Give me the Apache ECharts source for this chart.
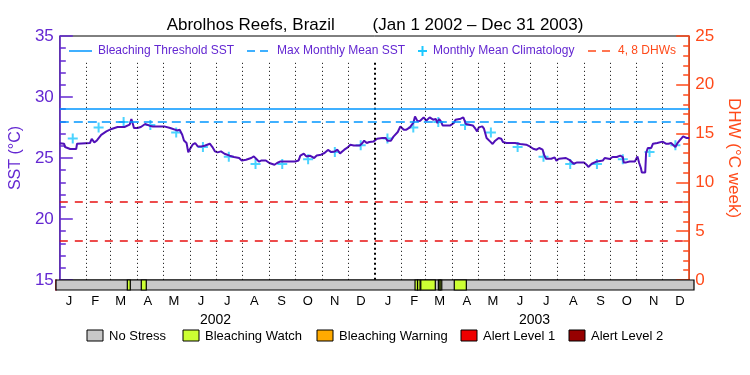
<!DOCTYPE html>
<html>
<head>
<meta charset="utf-8">
<script src="https://cdn.jsdelivr.net/npm/echarts@6/dist/echarts.min.js"></script>
<style>html,body{margin:0;padding:0;background:#fff}#c{width:750px;height:375px}</style>
</head>
<body>
<div id="c"></div>
<script>
// ---------- data ----------
const monthLetters = ['J','F','M','A','M','J','J','A','S','O','N','D'];
const monthMid = [15,45,74,105,135,166,196,227,258,288,319,349,380,410,439,470,500,531,561,592,623,653,684,714];
const monthStart = [31,59,90,120,151,181,212,243,273,304,334,365,396,424,455,485,516,546,577,608,638,669,699];
const yearLabels = ['2002','2003'];
const yearMid = [182.5,547.5];
const climSST = [26.6,27.5,27.95,27.7,27.1,25.9,25.1,24.5,24.5,24.9,25.5,26.05,
                 26.6,27.5,27.95,27.7,27.1,25.9,25.1,24.5,24.5,24.9,25.5,26.05];
const sstDay = [0,5,6,12,19,20,35,37,39,40,43,48,54,60,67,75,81,82,83,85,86,88,90,94,99,101,104,108,121,128,136,139,142,144,147,149,151,154,157,160,164,168,170,174,177,180,183,187,191,197,202,208,211,213,216,222,225,228,231,234,239,243,245,249,252,256,273,277,279,283,286,290,292,295,298,303,307,311,315,319,322,325,330,334,337,341,348,351,353,356,359,364,368,374,378,380,384,387,392,395,399,402,406,410,412,415,418,422,425,429,433,436,438,440,442,444,453,457,459,465,468,471,473,479,482,484,486,490,492,494,495,499,502,505,509,512,514,518,528,534,541,545,549,553,556,560,562,564,570,574,576,579,587,592,596,600,608,611,613,617,623,630,632,638,641,646,650,653,654,657,661,667,670,672,674,675,679,680,682,686,688,693,699,703,706,709,711,714,716,719,723,727,730];
const sstVal = [26.2,26.17,25.9,25.74,25.74,26.17,26.23,26.56,26.64,26.28,26.44,26.9,27.18,27.38,27.54,27.54,27.73,27.87,28.2,27.73,27.46,27.32,27.46,27.54,27.79,27.92,27.65,27.59,27.59,27.46,27.26,27.32,26.9,26.44,26.23,25.46,25.74,26.09,26.23,25.95,25.95,26.0,25.9,26.17,25.9,25.54,25.46,25.54,25.35,25.19,25.08,25.0,24.8,24.72,24.86,25.0,25.13,24.92,24.7,24.8,24.8,24.59,24.72,24.45,24.59,24.72,24.72,24.8,25.19,25.35,25.13,25.19,25.13,25.0,25.21,25.27,25.41,25.66,25.49,25.54,25.68,25.38,25.68,25.87,26.09,26.03,26.03,26.23,26.42,26.23,26.31,26.36,26.58,26.64,26.64,26.42,26.42,26.75,27.13,27.59,27.32,27.32,27.51,27.87,28.41,28.0,28.06,28.33,28.06,28.33,28.14,28.2,27.85,28.2,28.0,27.67,27.67,27.87,28.14,28.22,28.33,27.79,27.67,27.67,27.4,27.18,27.51,27.59,27.4,27.4,26.64,26.36,26.15,26.42,26.64,26.58,26.31,26.23,26.23,26.15,26.09,25.95,25.76,25.68,25.82,25.68,25.21,24.94,24.94,25.05,24.78,24.94,25.0,24.8,24.53,24.64,24.64,24.45,24.26,24.53,24.72,24.8,25.0,24.92,25.08,25.08,25.19,25.08,24.64,24.64,24.72,24.72,25.13,24.59,24.18,23.82,23.82,25.41,25.82,25.82,26.17,26.23,26.34,26.17,26.17,26.23,26.09,25.9,26.17,26.44,26.77,26.64,26.64];
const bleachingThreshold = 29;
const maxMonthlyMean = 28;
const dhwLevels = [4, 8];
const stressStart = [0,81.6,97.6,410.8,413.7,417.4,437.5,439.5,455.7];
const stressEnd   = [730,85,103.3,413.7,416.6,434,439.5,441.4,469.5];
const stressLevel = [0,1,1,1,1,1,1,1,1];
const stressNames = ['No Stress','Bleaching Watch','Bleaching Warning','Alert Level 1','Alert Level 2'];

// ---------- styles ----------
const PURPLE = '#6428d2', LINE = '#5010b8', ORANGE = '#ff4a1a', BLUE = '#0096ff', CYAN = '#1ec8ff', RED = '#e81010';
const stressColors = ['#c8c8c8','#ccff33','#ffaa00','#ee0000','#960000'];
const FONT = 'Liberation Sans';
const monthLineTop = 32.8;

const chart = echarts.init(document.getElementById('c'), null, {renderer:'canvas'});

const sstData = sstDay.map((d,i)=>[d, sstVal[i]]);
const climData = monthMid.map((d,i)=>[d, climSST[i]]);
const stressData = stressStart.map((s,i)=>[s, stressEnd[i], stressLevel[i]]);

const monthLines = monthStart.map(d => {
  const yr = d === 365;
  return [{coord:[d, monthLineTop], lineStyle:{type: yr ? [2,3] : [1,3], width: yr ? 2 : 1, color:'#000'}}, {coord:[d, 15]}];
});

const nearestIdx = (arr, v) => { let b=0; for (let i=1;i<arr.length;i++) if (Math.abs(arr[i]-v)<Math.abs(arr[b]-v)) b=i; return b; };

// legend graphics
const lg = [];
const LY = 51;
lg.push({type:'line', shape:{x1:69,y1:LY,x2:92,y2:LY}, style:{stroke:BLUE,lineWidth:1.5}});
lg.push({type:'text', x:98, y:LY, style:{text:'Bleaching Threshold SST', fill:PURPLE, font:'12px '+FONT, verticalAlign:'middle'}});
lg.push({type:'line', shape:{x1:247,y1:LY,x2:269,y2:LY}, style:{stroke:BLUE,lineWidth:1.5,lineDash:[8,5]}});
lg.push({type:'text', x:277, y:LY, style:{text:'Max Monthly Mean SST', fill:PURPLE, font:'12px '+FONT, verticalAlign:'middle'}});
lg.push({type:'line', shape:{x1:418,y1:LY,x2:427,y2:LY}, style:{stroke:CYAN,lineWidth:2}});
lg.push({type:'line', shape:{x1:422.5,y1:LY-5,x2:422.5,y2:LY+5}, style:{stroke:CYAN,lineWidth:2}});
lg.push({type:'text', x:433, y:LY, style:{text:'Monthly Mean Climatology', fill:PURPLE, font:'12px '+FONT, verticalAlign:'middle'}});
lg.push({type:'line', shape:{x1:588,y1:LY,x2:612,y2:LY}, style:{stroke:ORANGE,lineWidth:1.5,lineDash:[8,6]}});
lg.push({type:'text', x:618, y:LY, style:{text:'4, 8 DHWs', fill:ORANGE, font:'12px '+FONT, verticalAlign:'middle'}});
// stress legend
const boxX = [87,183,317,461,569];
stressNames.forEach((n,i)=>{
  lg.push({type:'rect', shape:{x:boxX[i], y:330, width:16, height:11}, style:{fill:stressColors[i], stroke:'#000', lineWidth:1}});
  lg.push({type:'text', x:boxX[i]+22, y:336, style:{text:n, fill:'#000', font:'13px '+FONT, verticalAlign:'middle'}});
});

const option = {
  animation:false,
  backgroundColor:'#fff',
  title:{text:'Abrolhos Reefs, Brazil        (Jan 1 2002 \u2013 Dec 31 2003)', left:'center', top:12,
    textStyle:{fontFamily:FONT, fontSize:17, fontWeight:'normal', color:'#000'}},
  grid:[
    {left:56, right:56, top:36, height:244, show:true, borderColor:'#000', borderWidth:1, backgroundColor:'transparent'},
    {left:56, right:56, top:280, height:10}
  ],
  xAxis:[
    {gridIndex:0, type:'value', min:0, max:730, show:false},
    {gridIndex:1, type:'value', min:0, max:730, axisLine:{show:false}, axisTick:{show:false}, splitLine:{show:false},
      axisLabel:{customValues:monthMid, formatter:v=>monthLetters[nearestIdx(monthMid,v)%12], color:'#000', fontFamily:FONT, fontSize:13, margin:5}},
    {gridIndex:1, type:'value', min:0, max:730, position:'bottom', offset:18, axisLine:{show:false}, axisTick:{show:false}, splitLine:{show:false},
      axisLabel:{customValues:yearMid, formatter:v=>yearLabels[nearestIdx(yearMid,v)], color:'#000', fontFamily:FONT, fontSize:14, margin:5}}
  ],
  yAxis:[
    {gridIndex:0, type:'value', position:'left', min:15, max:35, interval:5,
      axisLine:{show:true, lineStyle:{color:PURPLE, width:1.5}},
      axisTick:{show:true, inside:true, length:13, lineStyle:{color:PURPLE, width:1.5}},
      minorTick:{show:true, splitNumber:5, length:6, lineStyle:{color:PURPLE, width:1.5}},
      splitLine:{show:false},
      axisLabel:{color:PURPLE, fontFamily:FONT, fontSize:17, margin:6},
      name:'SST (\u00b0C)', nameLocation:'middle', nameGap:28, nameRotate:90,
      nameTextStyle:{color:PURPLE, fontFamily:FONT, fontSize:16}},
    {gridIndex:0, type:'value', position:'right', min:0, max:25, interval:5,
      axisLine:{show:true, lineStyle:{color:ORANGE, width:1.5}},
      axisTick:{show:true, inside:true, length:13, lineStyle:{color:ORANGE, width:1.5}},
      minorTick:{show:true, splitNumber:5, length:6, lineStyle:{color:ORANGE, width:1.5}},
      splitLine:{show:false},
      axisLabel:{color:ORANGE, fontFamily:FONT, fontSize:17, margin:6},
      name:'DHW (\u00b0C week)', nameLocation:'middle', nameGap:29, nameRotate:-90,
      nameTextStyle:{color:ORANGE, fontFamily:FONT, fontSize:17}},
    {gridIndex:1, type:'value', position:'left', min:0, max:1, axisLabel:{show:false}, axisTick:{show:false}, splitLine:{show:false},
      axisLine:{show:true, lineStyle:{color:PURPLE, width:1.5}}},
    {gridIndex:1, type:'value', position:'right', min:0, max:1, axisLabel:{show:false}, axisTick:{show:false}, splitLine:{show:false},
      axisLine:{show:true, lineStyle:{color:ORANGE, width:1.5}}}
  ],
  graphic: lg,
  series:[
    {name:'months', type:'line', xAxisIndex:0, yAxisIndex:0, data:[], silent:true,
      markLine:{silent:true, symbol:['none','none'], label:{show:false}, data:monthLines}},
    {name:'thresholds', type:'line', xAxisIndex:0, yAxisIndex:0, data:[], silent:true,
      markLine:{silent:true, symbol:['none','none'], label:{show:false}, data:[
        {yAxis:bleachingThreshold, lineStyle:{color:BLUE, width:1.5, type:'solid'}},
        {yAxis:maxMonthlyMean, lineStyle:{color:BLUE, width:1.5, type:[9,5]}}
      ]}},
    {name:'dhw', type:'line', xAxisIndex:0, yAxisIndex:1, data:[], silent:true,
      markLine:{silent:true, symbol:['none','none'], label:{show:false},
        data: dhwLevels.map(v=>({yAxis:v, lineStyle:{color:RED, width:1.5, type:[8,7]}}))}},
    {name:'Monthly Mean Climatology', type:'scatter', xAxisIndex:0, yAxisIndex:0, data:climData,
      symbol:'path://M4,0H6V10H4Z M0,4H10V6H0Z', symbolSize:10, itemStyle:{color:CYAN}, z:3},
    {name:'SST', type:'line', xAxisIndex:0, yAxisIndex:0, data:sstData, symbol:'none',
      lineStyle:{color:LINE, width:2}, z:4},
    {name:'stress', type:'custom', xAxisIndex:1, yAxisIndex:2, data:stressData,
      renderItem:(params, api)=>{
        const a = api.coord([api.value(0), 0]);
        const b = api.coord([api.value(1), 1]);
        return {type:'rect', shape:{x:a[0], y:b[1], width:b[0]-a[0], height:a[1]-b[1]},
          style:{fill:stressColors[api.value(2)], stroke:'#000', lineWidth:1.2}};
      }, z:5}
  ]
};
chart.setOption(option);
</script>
</body>
</html>
